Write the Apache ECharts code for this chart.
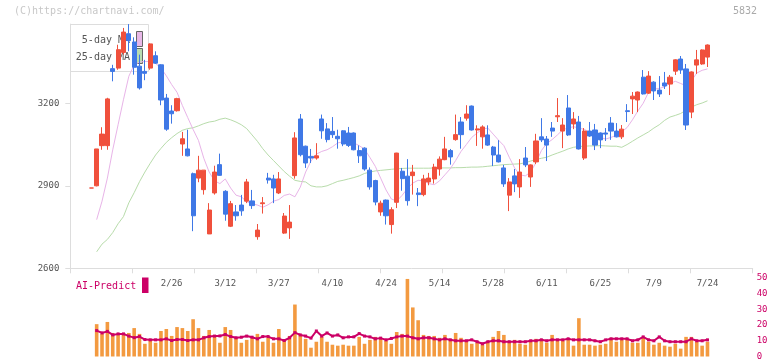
<!DOCTYPE html>
<html><head><meta charset="utf-8">
<script src="https://cdn.jsdelivr.net/npm/echarts@6/dist/echarts.min.js"></script>
<style>html,body{margin:0;padding:0;background:#fff}#c{width:772px;height:361px}</style>
</head><body><div id="c"></div>
<script>
const dates = ['2/3','2/4','2/5','2/6','2/7','2/10','2/12','2/13','2/14','2/17',
'2/18','2/19','2/20','2/21','2/25','2/26','2/27','2/28','3/3','3/4',
'3/5','3/6','3/7','3/10','3/11','3/12','3/13','3/14','3/17','3/18',
'3/19','3/21','3/24','3/25','3/26','3/27','3/28','3/31','4/1','4/2',
'4/3','4/4','4/7','4/8','4/9','4/10','4/11','4/14','4/15','4/16',
'4/17','4/18','4/21','4/22','4/23','4/24','4/25','4/28','5/1','5/2',
'5/7','5/8','5/9','5/12','5/13','5/14','5/15','5/16','5/19','5/20',
'5/21','5/22','5/23','5/26','5/27','5/28','5/29','5/30','6/2','6/3',
'6/4','6/5','6/6','6/9','6/10','6/11','6/12','6/13','6/16','6/17',
'6/18','6/19','6/20','6/23','6/24','6/25','6/26','6/27','6/30','7/1',
'7/2','7/3','7/4','7/7','7/8','7/9','7/10','7/11','7/14','7/15',
'7/16','7/17','7/18','7/22','7/23','7/24'];
const labelDates = ['2/26','3/12','3/27','4/10','4/24','5/14','5/28','6/11','6/25','7/9','7/24'];
const priceTicks = [2600, 2900, 3200];

const open = [2892,2900,3046,3046,3326,3328,3385,3453,3423,3335,
3316,3328,3373,3340,3219,3172,3173,3052,3034,2944,
2928,2886,2725,2874,2977,2880,2753,2805,2830,2844,
2845,2715,2835,2928,2925,2874,2728,2747,2937,3143,
3044,3007,3001,3143,3107,3098,3080,3100,3092,3092,
3028,3037,2957,2919,2805,2848,2759,2840,2953,2935,
2937,2874,2868,2914,2925,2961,2995,3028,3068,3132,
3146,3190,3103,3078,3085,3041,3012,2965,2866,2936,
2896,3001,2932,2987,3078,3070,3110,3151,3099,3183,
3125,3132,3001,3099,3103,3092,3092,3128,3099,3078,
3173,3216,3212,3295,3237,3277,3248,3274,3270,3317,
3361,3325,3168,3339,3343,3368];
const close = [2892,3034,3088,3216,3316,3395,3459,3428,3331,3256,
3309,3416,3346,3212,3106,3162,3217,3071,3009,2791,
2957,2957,2812,2950,2938,2797,2835,2791,2809,2914,
2828,2739,2838,2921,2892,2925,2790,2768,3074,3013,
2983,3001,3009,3100,3068,3086,3071,3052,3047,3031,
3009,2961,2896,2841,2837,2791,2813,3019,2926,2846,
2950,2868,2925,2928,2968,2997,3034,3005,3086,3086,
3161,3103,3107,3114,3048,3012,2987,2907,2914,2907,
2950,2976,2976,3063,3067,3048,3099,3155,3121,3085,
3143,3034,3099,3081,3048,3067,3088,3099,3078,3106,
3170,3226,3241,3234,3299,3245,3234,3263,3295,3358,
3321,3121,3314,3358,3394,3412];
const low = [2892,2898,3031,3031,3280,3322,3377,3389,3304,3250,
3284,3322,3343,3193,3100,3126,3170,3009,3007,2735,
2913,2868,2725,2868,2937,2773,2750,2773,2791,2837,
2816,2704,2799,2908,2837,2870,2725,2707,2926,3007,
2965,2983,2995,3071,3058,3074,3035,3044,3041,3029,
2983,2955,2886,2829,2791,2759,2726,2819,2882,2828,
2868,2826,2862,2902,2908,2937,2993,2977,3064,3035,
3137,3101,3045,3035,3045,2972,2985,2896,2808,2877,
2856,2968,2896,2979,3059,2990,3078,3132,3037,3081,
3106,3032,2994,3078,3030,3037,3063,3067,3076,3070,
3132,3161,3168,3232,3234,3212,3223,3252,3230,3303,
3307,3103,3146,3307,3340,3332];
const high = [2892,3034,3113,3220,3340,3413,3474,3488,3440,3377,
3358,3418,3389,3342,3234,3193,3220,3096,3104,2948,
3009,2957,2837,2973,3017,2884,2845,2830,2867,2925,
2885,2761,2859,2947,2940,2950,2801,2830,3095,3161,
3046,3034,3055,3159,3128,3150,3104,3102,3114,3094,
3047,3040,2967,2922,2846,2850,2822,3020,2965,2997,
2976,2892,2940,2947,2980,3007,3078,3034,3159,3150,
3193,3192,3120,3120,3120,3045,3066,2976,2928,2961,
2997,3041,2978,3089,3146,3081,3132,3219,3146,3230,
3168,3154,3110,3132,3125,3094,3110,3150,3128,3121,
3197,3241,3243,3321,3317,3280,3299,3314,3303,3360,
3372,3343,3316,3394,3396,3414];

const ma5 = [null,2777,2844,2928,3031,3122,3213,3298,3340,3350,
3352,3352,3345,3328,3300,3268,3240,3192,3148,3105,
3065,3000,2950,2918,2908,2925,2892,2866,2860,2842,
2835,2830,2822,2831,2844,2850,2865,2870,2860,2895,
2950,2990,3015,3025,3031,3042,3056,3060,3062,3056,
3046,3033,3003,2971,2928,2885,2852,2845,2865,2890,
2910,2920,2918,2908,2904,2918,2940,2962,2992,3025,
3050,3076,3092,3106,3110,3088,3066,3046,3004,2965,
2940,2936,2950,2985,3028,3054,3068,3085,3104,3110,
3115,3110,3105,3096,3088,3076,3070,3076,3084,3096,
3112,3140,3172,3200,3240,3252,3254,3260,3272,3280,
3272,3264,3282,3310,3320,3325];
const ma25 = [null,2660,2688,2705,2730,2762,2788,2838,2875,2915,
2950,2982,3012,3036,3058,3075,3090,3102,3108,3111,
3118,3126,3132,3135,3142,3146,3140,3132,3122,3108,
3085,3062,3035,3012,2992,2972,2952,2935,2920,2916,
2914,2900,2896,2896,2900,2908,2916,2920,2925,2930,
2936,2945,2950,2954,2956,2958,2960,2962,2963,2964,
2964,2964,2964,2964,2965,2965,2965,2965,2966,2966,
2967,2968,2968,2969,2971,2973,2975,2977,2978,2979,
2980,2984,2990,2996,3000,3004,3012,3019,3026,3034,
3040,3043,3044,3045,3045,3046,3045,3044,3044,3040,
3050,3062,3074,3085,3096,3110,3122,3138,3150,3156,
3163,3175,3186,3195,3201,3209];

const volume = [null,20.6,14.4,22,15,14.4,15,15,18.1,14.4,8.1,
10.6,8.75,16.25,17.5,13.1,18.75,18.1,16.25,23.75,18.1,
13.1,16.9,13.75,8.75,18.75,16.9,11.9,8.75,10.6,12.5,
14.4,9.4,11.9,8.75,17.5,10.6,13.1,33.1,13.75,11.25,
5.6,9.4,12.5,9.4,7.5,6.9,7.5,6.9,6.9,12.5,
8.1,10.6,12.5,11.25,10,8.1,15.6,14.4,49.4,31.25,
23.1,13.75,13.1,13.1,11.9,13.75,11.25,15,11.9,10,
8.1,8.75,7.5,9.4,12.5,16.25,13.75,9.4,10.6,8.1,
7.5,10,11.25,10,8.75,13.75,10,10,10.6,6.9,
24.4,7.5,7.5,6.9,7.5,8.1,11.9,9.4,10.6,11.25,
8.75,8.75,11.9,9.4,7.5,8.75,6.9,6.25,8.1,5,
12.5,12.5,9.4,6.9,9.4];
const aiPredict = [null,16.5,15,16,13.75,14.4,14.4,13,12,12.7,10.8,
10.6,10.6,10.6,11.25,10.2,10.8,10.8,10.2,10.6,10.6,
11.9,12.7,13,13.1,14,12.7,11.9,12.3,13,12.3,
11.25,12.7,12.7,11.25,11.25,10.2,11.9,15.2,13.75,13,
11.7,16.25,13,15,13,13.75,11.9,12.5,12.5,14.6,
13,12.5,11.25,11.7,10.6,11.5,12.5,13,13,11.9,
11.25,11.9,11.9,11.25,10.6,11.25,10.6,10,10,10,
10.6,9.4,8.1,9.4,10,10,9.4,9.4,9.4,9.4,
9.4,10,10,10.6,10,10.6,10.6,10.6,11.25,10.6,
10.6,10.6,10.6,10,9.4,10.6,11.25,11.25,11.25,11.25,
10,10.6,12.5,10.6,10,12.5,10,9.4,9.4,9.4,
9.4,11.25,10,10,10.6];

const UP = '#f0503c', DOWN = '#3f78e6';
const MONO = '"DejaVu Sans Mono", "Liberation Mono", monospace';
const xMin = -3.92, xMax = 123.44;
const xTicks = Array.from({length: 12}, (_, k) => xMin + k * (xMax - xMin) / 11);
const labelIdx = labelDates.map(d => dates.indexOf(d));
const pairs = arr => arr.map((v, i) => v == null ? null : [i, v]).filter(Boolean);

const chart = echarts.init(document.getElementById('c'));
chart.setOption({
  animation: false,
  backgroundColor: '#fff',
  grid: [
    {left: 70.3, right: 19.3, top: 24.1, bottom: 92.7},
    {left: 70.3, right: 19.3, top: 278, bottom: 3}
  ],
  xAxis: [
    {type: 'value', gridIndex: 0, min: xMin, max: xMax,
     axisLine: {show: true, onZero: false, lineStyle: {color: '#ddd'}},
     axisTick: {show: true, customValues: xTicks, length: 5, lineStyle: {color: '#ddd'}},
     axisLabel: {show: true, customValues: labelIdx, formatter: v => dates[Math.round(v)],
       color: '#555', fontFamily: MONO, fontSize: 9, margin: 11},
     splitLine: {show: false}},
    {type: 'value', gridIndex: 1, min: xMin, max: xMax, show: false}
  ],
  yAxis: [
    {type: 'value', gridIndex: 0, min: 2600, max: 3488,
     axisLine: {show: true, onZero: false, lineStyle: {color: '#ddd'}},
     axisTick: {show: true, customValues: priceTicks, length: 5, lineStyle: {color: '#ddd'}},
     axisLabel: {customValues: priceTicks, formatter: v => String(v), color: '#555', fontFamily: MONO, fontSize: 9, margin: 11},
     splitLine: {show: false}},
    {type: 'value', gridIndex: 1, min: 0, max: 50, interval: 10, position: 'right',
     axisLine: {show: false}, axisTick: {show: false}, splitLine: {show: false},
     axisLabel: {color: '#cc0066', fontFamily: MONO, fontSize: 9, margin: 4}}
  ],
  graphic: [
    {type: 'text', left: 14, top: 6, style: {text: '(C)https://chartnavi.com/', fill: '#c8c8c8', font: '10px ' + MONO}},
    {type: 'text', left: 733, top: 6, style: {text: '5832', fill: '#aaa', font: '10px ' + MONO}},
    {type: 'rect', z: 0, shape: {x: 70.5, y: 24.5, width: 78, height: 47}, style: {fill: 'rgba(255,255,255,0.9)', stroke: '#ddd', lineWidth: 1}},
    {type: 'text', z: 0, x: 130, y: 40.5, style: {text: '5-day MA', fill: '#555', font: '10px ' + MONO, align: 'right', verticalAlign: 'middle'}},
    {type: 'text', z: 0, x: 130, y: 57.5, style: {text: '25-day MA', fill: '#555', font: '10px ' + MONO, align: 'right', verticalAlign: 'middle'}},
    {type: 'rect', z: 0, shape: {x: 136.5, y: 31.5, width: 6, height: 15}, style: {fill: '#e8b8e8', stroke: '#666', lineWidth: 1}},
    {type: 'rect', z: 0, shape: {x: 136.5, y: 48.5, width: 6, height: 15}, style: {fill: '#b8dcb0', stroke: '#666', lineWidth: 1}},
    {type: 'text', x: 76, y: 286, style: {text: 'AI-Predict', fill: '#cc0066', font: '10px ' + MONO, verticalAlign: 'middle'}},
    {type: 'rect', shape: {x: 142, y: 277.5, width: 6.5, height: 15.5}, style: {fill: '#cc0066'}}
  ],
  series: [
    {type: 'line', name: '25-day MA', xAxisIndex: 0, yAxisIndex: 0, z: 1, data: pairs(ma25),
     showSymbol: false, symbol: 'none', lineStyle: {color: '#b8dcab', width: 1}},
    {type: 'line', name: '5-day MA', xAxisIndex: 0, yAxisIndex: 0, z: 1, data: pairs(ma5),
     showSymbol: false, symbol: 'none', lineStyle: {color: '#e8b4e8', width: 1}},
    {type: 'candlestick', xAxisIndex: 0, yAxisIndex: 0, z: 3, barWidth: 4.6,
     encode: {x: 0, y: [1, 2, 3, 4]},
     data: dates.map((d, i) => [i, open[i], close[i], low[i], high[i]]),
     itemStyle: {color: UP, color0: DOWN, borderColor: UP, borderColor0: DOWN, borderColorDoji: UP, borderWidth: 1}},
    {type: 'bar', xAxisIndex: 1, yAxisIndex: 1, barWidth: 3.6, data: pairs(volume),
     itemStyle: {color: '#f39a40'}},
    {type: 'line', xAxisIndex: 1, yAxisIndex: 1, data: pairs(aiPredict),
     symbol: 'rect', symbolSize: 3, showSymbol: true,
     lineStyle: {color: '#cc0066', width: 2}, itemStyle: {color: '#cc0066'}}
  ]
});
</script></body></html>
